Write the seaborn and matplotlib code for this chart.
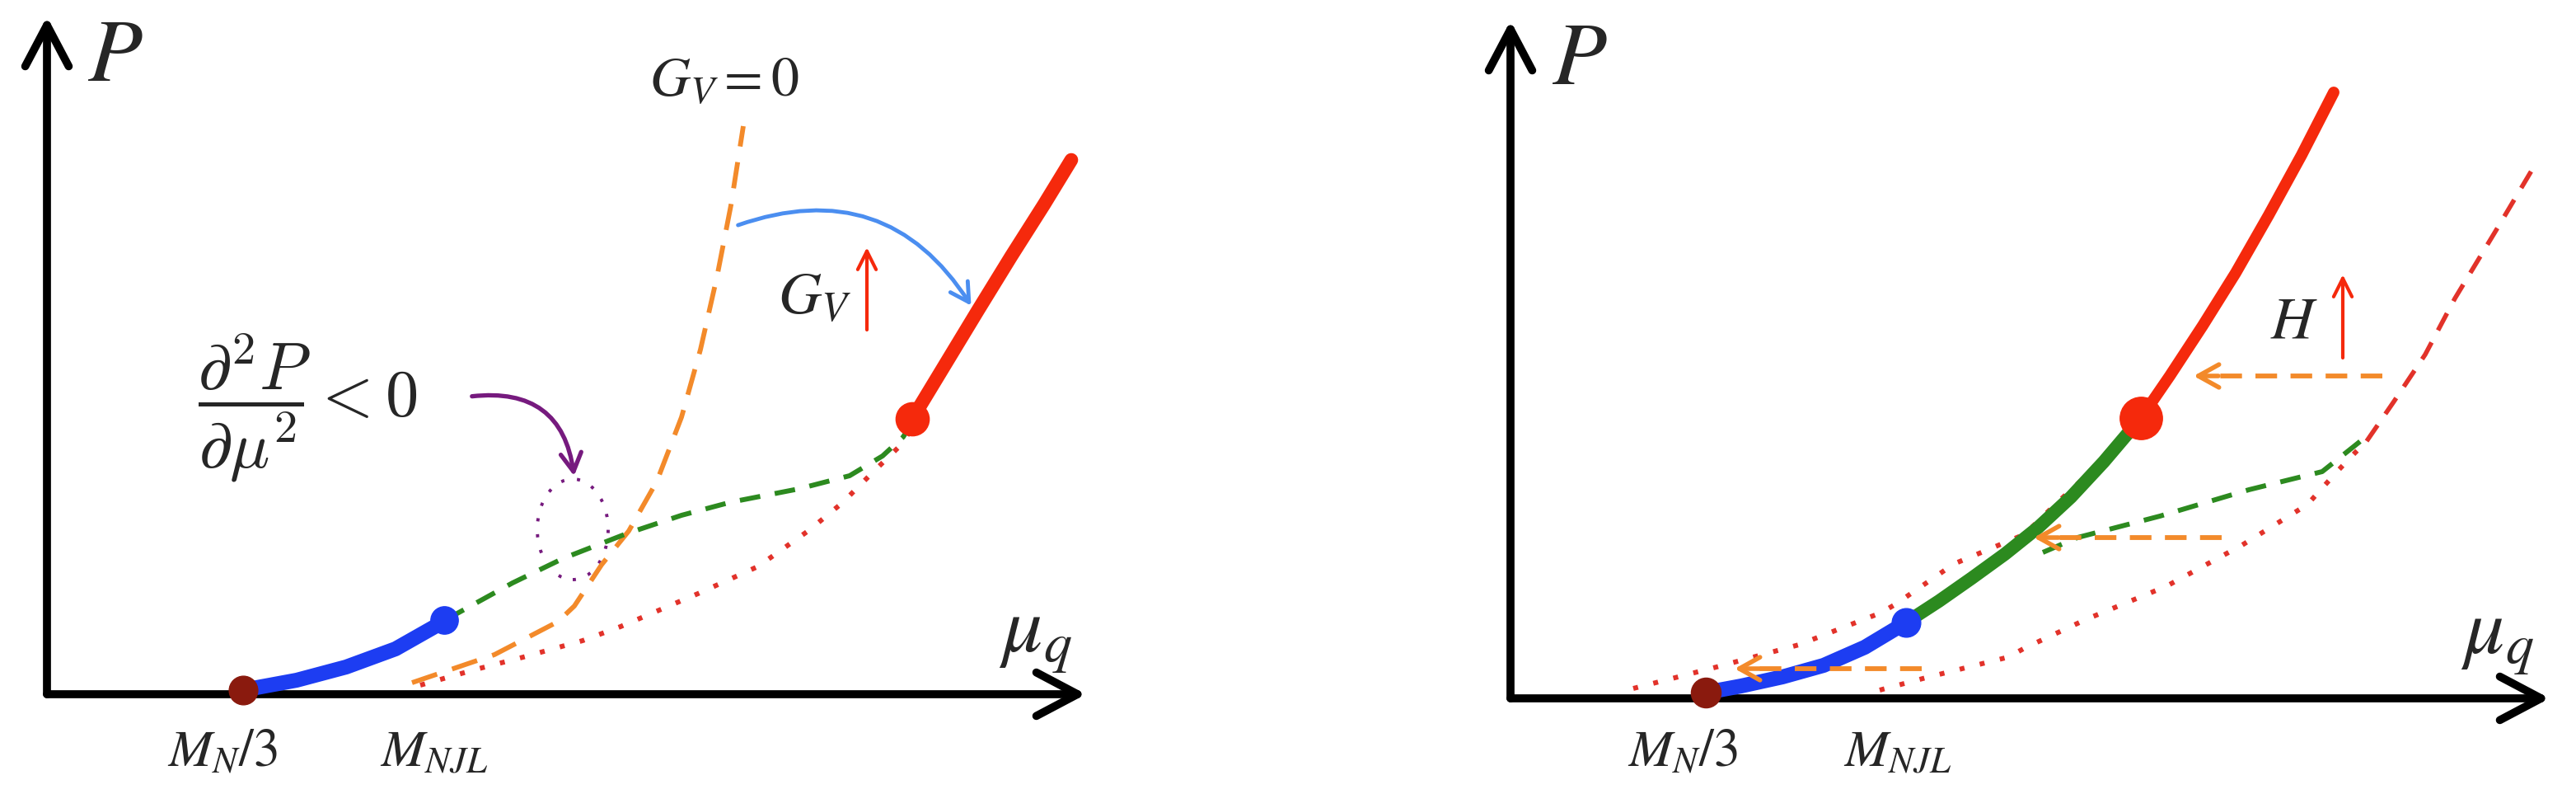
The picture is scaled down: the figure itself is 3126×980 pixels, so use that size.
import matplotlib
matplotlib.use("Agg")
import matplotlib.pyplot as plt
from matplotlib.patches import Ellipse, FancyArrowPatch
import seaborn as sns

sns.set_theme(style="white")
plt.rcParams["mathtext.fontset"] = "stix"
plt.rcParams["font.family"] = ["DejaVu Serif"]

# ---- left panel: pressure vs chemical potential, varying G_V ----
L_blue_x = [238, 303, 363, 423, 483]
L_blue_y = [5, 17, 33, 55, 89]
L_green_x = [483, 496, 565, 627, 704, 770, 830, 912, 974, 1014, 1039, 1050]
L_green_y = [92, 97, 135, 165, 195, 217, 233, 249, 265, 289, 312, 330]
L_red_x = [1050, 1090, 1130, 1170, 1210, 1243]
L_red_y = [334, 400, 466, 531, 594, 648]
L_orange_x = [443, 543, 620, 640, 673, 706, 740, 770, 793, 813, 830, 845]
L_orange_y = [14, 48, 88, 107, 157, 198, 258, 336, 418, 506, 593, 689]
L_dot_x = [453, 520, 578, 650, 696, 790, 863, 925, 965, 1002, 1039, 1050]
L_dot_y = [11, 30, 45, 65, 82, 122, 155, 199, 232, 269, 305, 325]
L_points = {"MN3": (238, 5), "MNJL": (482, 90), "crit": (1050, 334)}

# ---- right panel: varying H ----
R_blue_x = [237, 280, 330, 380, 430, 480]
R_blue_y = [7, 15, 26, 40, 62, 92]
R_green_x = [480, 520, 560, 600, 640, 680, 720, 765]
R_green_y = [92, 118, 146, 175, 207, 244, 287, 340]
R_red_x = [765, 800, 840, 880, 920, 960, 999]
R_red_y = [340, 391, 452, 516, 586, 659, 735]
R_dot1_x = [149, 250, 350, 450, 467, 538, 624, 663, 699, 735, 750]
R_dot1_y = [12, 38, 65, 104, 114, 163, 199, 237, 270, 311, 325]
R_dot2_x = [448, 504, 604, 624, 699, 796, 888, 967, 1003, 1024, 1039]
R_dot2_y = [10, 25, 50, 61, 96, 136, 186, 235, 275, 297, 312]
R_dash_x = [1039, 1072, 1110, 1146, 1195, 1245]
R_dash_y = [312, 360, 417, 485, 566, 650]
R_gdash_x = [646, 688, 788, 896, 985, 1024, 1039]
R_gdash_y = [177, 195, 221, 253, 275, 306, 318]
R_points = {"MN3": (237, 7), "MNJL": (480, 92), "crit": (765, 340)}
R_shift_y = [391, 195, 36]
R_shift_x0 = [1058, 863, 499]
R_shift_x1 = [829, 635, 272]

BLUE = "#1d3df2"
DKRED = "#8a1a0e"
RED = "#f5290c"
DOTRED = "#e2322a"
GREEN = "#2c8a1f"
ORANGE = "#f38a2a"
ARC_BLUE = "#4b8ef0"
PURPLE = "#761a7e"

fig = plt.figure(figsize=(31.26, 9.8), dpi=100)
axL = fig.add_axes([0, 0, 0.5, 1])
axR = fig.add_axes([0.5, 0, 0.5, 1])
axL.set_xlim(-57, 1506)
axL.set_ylim(-138, 842)
axR.set_xlim(-270, 1293)
axR.set_ylim(-133, 847)
for ax in (axL, axR):
    ax.set_axis_off()


def curve(ax, x, y, color, lw, ls="-", z=2):
    sns.lineplot(x=x, y=y, ax=ax, color=color, lw=lw, linestyle=ls,
                 sort=False, estimator=None, solid_capstyle="round",
                 solid_joinstyle="round", zorder=z)


def axes_arrows(ax, xtip, ytip):
    for tip in [(xtip, 0), (0, ytip)]:
        ax.annotate("", xy=tip, xytext=(0, 0),
                    arrowprops=dict(arrowstyle="->,head_length=3.6,head_width=1.9",
                                    mutation_scale=10, lw=7, color="black",
                                    shrinkA=0, shrinkB=0, capstyle="round",
                                    joinstyle="round"), zorder=1)


def up_arrow(ax, x, y0, y1):
    ax.annotate("", xy=(x, y1), xytext=(x, y0),
                arrowprops=dict(arrowstyle="->,head_length=1.6,head_width=0.8",
                                mutation_scale=10, lw=3, color=RED,
                                shrinkA=0, shrinkB=0))


dotted = (0, (1, 3.2))
dashed = (0, (4.2, 3))
odashed = (0, (5.5, 3.3))

# left
axes_arrows(axL, 1261, 822)
curve(axL, L_dot_x, L_dot_y, DOTRED, 4.3, dotted)
curve(axL, L_orange_x, L_orange_y, ORANGE, 4.2, odashed)
curve(axL, L_green_x, L_green_y, GREEN, 4.3, dashed)
curve(axL, L_blue_x, L_blue_y, BLUE, 13, z=3)
curve(axL, L_red_x, L_red_y, RED, 12, z=3)
axL.plot(*L_points["MN3"], "o", ms=25, color=DKRED, zorder=5)
axL.plot(*L_points["MNJL"], "o", ms=24, color=BLUE, zorder=5)
axL.plot(*L_points["crit"], "o", ms=29, color=RED, zorder=5)

axL.add_patch(Ellipse((638, 200), 86, 122, fill=False, ec=PURPLE, lw=2.8,
                      linestyle=(0, (1, 4))))
axL.add_patch(FancyArrowPatch((513, 361), (640, 262),
                              connectionstyle="arc3,rad=-0.5",
                              arrowstyle="->,head_length=16,head_width=9",
                              lw=3.8, color=PURPLE))
axL.add_patch(FancyArrowPatch((836, 568), (1123, 469),
                              connectionstyle="arc3,rad=-0.4",
                              arrowstyle="->,head_length=16,head_width=9",
                              lw=3.5, color=ARC_BLUE))
up_arrow(axL, 995, 442, 542)

axL.text(83, 774, r"$P$", fontsize=78, ha="center", va="center")
axL.text(1200, 70, r"$\mu_q$", fontsize=70, ha="center", va="center")
axL.text(213, -70, r"$M_N/\mathit{3}$", fontsize=46, ha="center", va="center")
axL.text(470, -70, r"$M_{NJL}$", fontsize=46, ha="center", va="center")
axL.text(822, 745, r"$G_V=\mathit{0}$", fontsize=49, ha="center", va="center")
axL.text(931, 482, r"$G_V$", fontsize=52, ha="center", va="center")
axL.text(316, 347, r"$\dfrac{\partial^2 P}{\partial\mu^2} < 0$", fontsize=58,
         ha="center", va="center", math_fontfamily="cm")

# right
axes_arrows(axR, 1261, 822)
curve(axR, R_dot1_x, R_dot1_y, DOTRED, 4.3, dotted)
curve(axR, R_dot2_x, R_dot2_y, DOTRED, 4.3, dotted)
curve(axR, R_dash_x, R_dash_y, DOTRED, 4.0, dashed)
curve(axR, R_gdash_x, R_gdash_y, GREEN, 4.3, dashed)
curve(axR, R_blue_x, R_blue_y, BLUE, 13, z=3)
curve(axR, R_green_x, R_green_y, GREEN, 11.5, z=3)
curve(axR, R_red_x, R_red_y, RED, 10, z=3)
axR.plot(*R_points["MN3"], "o", ms=26, color=DKRED, zorder=5)
axR.plot(*R_points["MNJL"], "o", ms=25, color=BLUE, zorder=5)
axR.plot(*R_points["crit"], "o", ms=37, color=RED, zorder=5)

for y, x0, x1 in zip(R_shift_y, R_shift_x0, R_shift_x1):
    axR.plot([x0, x1 + 12], [y, y], color=ORANGE, lw=4.2, linestyle=(0, (4.5, 2.8)),
             zorder=4)
    axR.annotate("", xy=(x1, y), xytext=(x1 + 30, y),
                 arrowprops=dict(arrowstyle="->,head_length=1.8,head_width=1.0",
                                 mutation_scale=10, lw=4, color=ORANGE,
                                 shrinkA=0, shrinkB=0), zorder=4)

up_arrow(axR, 1010, 413, 514)
axR.text(84, 775, r"$P$", fontsize=78, ha="center", va="center")
axR.text(1198, 73, r"$\mu_q$", fontsize=70, ha="center", va="center")
axR.text(209, -65, r"$M_N/\mathit{3}$", fontsize=46, ha="center", va="center")
axR.text(470, -65, r"$M_{NJL}$", fontsize=46, ha="center", va="center")
axR.text(951, 457, r"$H$", fontsize=52, ha="center", va="center")

fig.savefig("out.png", dpi=100, facecolor="white")
